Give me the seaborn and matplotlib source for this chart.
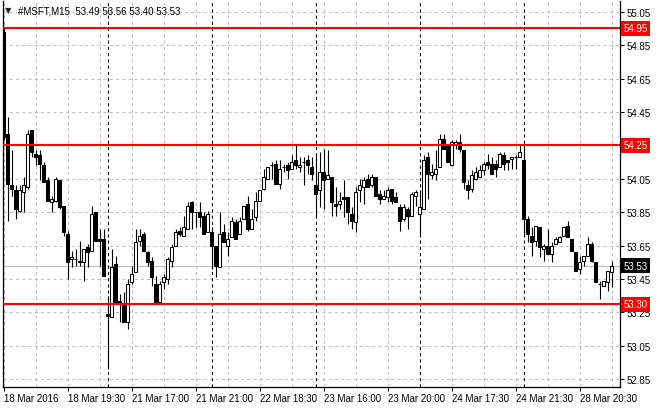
import pandas as pd
import matplotlib
matplotlib.use("Agg")
import matplotlib.pyplot as plt
import seaborn as sns

# M15 bars of #MSFT (one value per bar)
opens = [54.93, 54.32, 54.01, 53.98, 53.86, 53.97, 54.00, 54.34, 54.20, 54.19,
         54.13, 54.04, 53.91, 53.92, 54.04, 53.89, 53.72, 53.57, 53.57, 53.55,
         53.55, 53.64, 53.62, 53.85, 53.69, 53.69, 53.24, 53.22, 53.54, 53.32,
         53.30, 53.19, 53.43, 53.49, 53.68, 53.72, 53.61, 53.56, 53.42, 53.31,
         53.43, 53.45, 53.56, 53.65, 53.74, 53.71, 53.75, 53.91, 53.85, 53.85,
         53.83, 53.73, 53.73, 53.65, 53.52, 53.73, 53.65, 53.70, 53.79, 53.72,
         53.81, 53.90, 53.75, 53.82, 53.92, 53.99, 54.05, 54.13, 54.14, 54.02,
         54.12, 54.13, 54.11, 54.16, 54.12, 54.15, 54.16, 54.12, 54.01, 53.98,
         54.09, 54.05, 54.06, 53.90, 53.90, 53.94, 53.94, 53.84, 53.79, 53.98,
         54.00, 54.05, 54.01, 54.06, 53.96, 53.93, 53.94, 53.99, 53.94, 53.88,
         53.81, 53.87, 53.83, 53.95, 53.84, 53.87, 54.18, 54.07, 54.08, 54.12,
         54.29, 54.25, 54.13, 54.26, 54.27, 54.22, 54.01, 53.99, 54.05, 54.06,
         54.10, 54.15, 54.14, 54.14, 54.12, 54.19, 54.16, 54.17, 54.18, 54.18,
         54.16, 53.81, 53.71, 53.68, 53.76, 53.63, 53.65, 53.60, 53.66, 53.67,
         53.71, 53.77, 53.69, 53.61, 53.51, 53.56, 53.59, 53.66, 53.55, 53.42,
         53.41, 53.43, 53.49]
highs = [54.96, 54.42, 54.22, 54.01, 54.01, 54.06, 54.34, 54.34, 54.22, 54.22,
         54.15, 54.06, 53.95, 54.06, 54.04, 53.89, 53.74, 53.62, 53.63, 53.68,
         53.63, 53.66, 53.89, 53.85, 53.75, 53.75, 53.35, 53.63, 53.59, 53.36,
         53.37, 53.45, 53.53, 53.75, 53.75, 53.73, 53.62, 53.58, 53.47, 53.44,
         53.48, 53.58, 53.66, 53.75, 53.76, 53.83, 53.91, 53.92, 53.85, 53.91,
         53.85, 53.86, 53.76, 53.65, 53.85, 53.78, 53.73, 53.82, 53.81, 53.82,
         53.89, 53.95, 53.87, 53.97, 53.98, 54.11, 54.12, 54.15, 54.16, 54.16,
         54.14, 54.15, 54.19, 54.25, 54.18, 54.18, 54.19, 54.18, 54.20, 54.21,
         54.23, 54.22, 54.06, 54.00, 53.97, 54.04, 53.94, 53.88, 54.00, 54.05,
         54.06, 54.08, 54.08, 54.06, 53.98, 53.98, 54.00, 53.99, 53.97, 53.90,
         53.90, 53.88, 53.97, 53.98, 53.98, 54.19, 54.21, 54.14, 54.22, 54.32,
         54.32, 54.25, 54.28, 54.28, 54.32, 54.22, 54.04, 54.10, 54.12, 54.13,
         54.15, 54.20, 54.18, 54.16, 54.21, 54.21, 54.16, 54.18, 54.19, 54.25,
         54.25, 53.83, 53.76, 53.77, 53.76, 53.66, 53.75, 53.67, 53.70, 53.71,
         53.77, 53.80, 53.69, 53.61, 53.59, 53.59, 53.70, 53.67, 53.55, 53.44,
         53.44, 53.50, 53.56]
lows = [54.28, 53.80, 53.95, 53.81, 53.85, 53.85, 53.99, 54.18, 54.13, 54.04,
        54.03, 53.92, 53.85, 53.91, 53.87, 53.71, 53.45, 53.52, 53.53, 53.53,
        53.44, 53.52, 53.62, 53.68, 53.53, 53.47, 52.91, 53.22, 53.31, 53.19,
        53.19, 53.15, 53.42, 53.49, 53.65, 53.62, 53.53, 53.41, 53.31, 53.31,
        53.39, 53.42, 53.52, 53.65, 53.71, 53.71, 53.75, 53.75, 53.76, 53.76,
        53.72, 53.73, 53.51, 53.46, 53.52, 53.67, 53.59, 53.70, 53.69, 53.72,
        53.81, 53.74, 53.75, 53.80, 53.92, 53.98, 54.05, 54.05, 54.02, 53.99,
        54.09, 54.05, 54.11, 54.11, 54.09, 54.01, 54.08, 54.04, 53.83, 53.88,
        53.87, 54.05, 53.83, 53.83, 53.87, 53.82, 53.78, 53.75, 53.73, 53.91,
        53.90, 54.00, 54.00, 53.95, 53.90, 53.93, 53.91, 53.90, 53.91, 53.74,
        53.80, 53.75, 53.83, 53.89, 53.71, 53.87, 53.93, 54.05, 54.04, 54.12,
        54.23, 54.15, 54.13, 54.23, 54.21, 53.99, 53.93, 53.97, 54.04, 54.06,
        54.07, 54.11, 54.08, 54.06, 54.12, 54.10, 54.10, 54.11, 54.11, 54.18,
        53.72, 53.67, 53.59, 53.65, 53.58, 53.56, 53.60, 53.55, 53.66, 53.67,
        53.71, 53.70, 53.62, 53.50, 53.48, 53.53, 53.59, 53.55, 53.43, 53.33,
        53.41, 53.38, 53.40]
closes = [54.30, 54.02, 53.99, 53.87, 53.98, 54.01, 54.32, 54.21, 54.18, 54.14,
          54.03, 53.92, 53.93, 54.05, 53.88, 53.73, 53.55, 53.58, 53.57, 53.56,
          53.63, 53.61, 53.84, 53.68, 53.68, 53.47, 53.23, 53.52, 53.31, 53.30,
          53.19, 53.42, 53.48, 53.67, 53.71, 53.62, 53.55, 53.46, 53.31, 53.42,
          53.46, 53.57, 53.64, 53.73, 53.72, 53.76, 53.89, 53.85, 53.85, 53.82,
          53.72, 53.84, 53.65, 53.53, 53.72, 53.67, 53.69, 53.80, 53.69, 53.80,
          53.89, 53.75, 53.81, 53.92, 53.98, 54.06, 54.12, 54.13, 54.02, 54.11,
          54.12, 54.10, 54.15, 54.13, 54.13, 54.15, 54.13, 54.08, 53.96, 54.09,
          54.04, 54.07, 53.91, 53.89, 53.92, 53.93, 53.85, 53.80, 53.97, 54.01,
          54.04, 54.00, 54.06, 53.95, 53.93, 53.95, 53.98, 53.92, 53.91, 53.80,
          53.88, 53.83, 53.96, 53.97, 53.88, 54.16, 54.08, 54.09, 54.11, 54.29,
          54.23, 54.15, 54.27, 54.27, 54.23, 54.03, 53.98, 54.07, 54.09, 54.10,
          54.14, 54.13, 54.08, 54.11, 54.20, 54.14, 54.15, 54.18, 54.18, 54.21,
          53.81, 53.72, 53.67, 53.77, 53.64, 53.65, 53.60, 53.65, 53.69, 53.70,
          53.76, 53.70, 53.62, 53.50, 53.55, 53.59, 53.66, 53.56, 53.43, 53.42,
          53.44, 53.50, 53.53]

# horizontal levels drawn on the chart
levels = [54.95, 54.25, 53.30]
last_price = 53.53
header = "#MSFT,M15  53.49 53.56 53.40 53.53"

# axis labels
y_ticks = [52.85, 53.05, 53.25, 53.45, 53.65, 53.85, 54.05, 54.25, 54.45, 54.65, 54.85, 55.05]
x_tick_bars = [0, 16, 32, 48, 64, 80, 96, 112, 128, 144]
x_tick_labels = ["18 Mar 2016", "18 Mar 19:30", "21 Mar 17:00", "21 Mar 21:00", "22 Mar 18:30",
                 "23 Mar 16:00", "23 Mar 20:00", "24 Mar 17:30", "24 Mar 21:30", "28 Mar 20:30"]
day_starts = [26, 52, 78, 104, 130]

df = pd.DataFrame({"open": opens, "high": highs, "low": lows, "close": closes})
df["bar"] = range(len(df))
df["bull"] = df["close"] >= df["open"]

sns.set_theme(style="white")
plt.rcParams["font.family"] = ["Liberation Sans", "DejaVu Sans"]

fig = plt.figure(figsize=(6.6, 4.1), dpi=100)
ax = fig.add_axes([2.5 / 660, 1 - 388 / 410, 617.5 / 660, 386 / 410])
ax.set_facecolor("white")

dash = (0, (3, 3))

# grid; a tick label hidden under a level box is left blank
ax.set_yticks(y_ticks)
ax.set_yticklabels(["" if any(abs(v - lv) < 1e-6 for lv in levels) else f"{v:.2f}"
                    for v in y_ticks])
ax.set_xticks(x_tick_bars)
ax.set_xticklabels(x_tick_labels, ha="left")
ax.set_xticks(range(0, len(df) + 2, 8), minor=True)
ax.grid(True, which="both", color="#c0c0c0", linestyle=dash, linewidth=0.75)
ax.set_axisbelow(True)

# day separators and bid line
for d in day_starts:
    ax.axvline(d, color="black", linestyle=dash, linewidth=0.75, zorder=1.5)
ax.axhline(last_price, color="#c0c0c0", linewidth=0.9, zorder=1.4)

# candles
ax.vlines(df["bar"], df["low"], df["high"], color="black", linewidth=0.8, zorder=2)
body_low = df[["open", "close"]].min(axis=1)
body_h = (df["close"] - df["open"]).abs().clip(lower=0.002)
ax.bar(df["bar"], body_h, bottom=body_low, width=0.55,
       color=["white" if b else "black" for b in df["bull"]],
       edgecolor="black", linewidth=0.75, zorder=2.5)

# levels
for lv in levels:
    ax.axhline(lv, color="#ff0000", linewidth=1.5, zorder=3)

ax.set_xlim(-0.25, 154.1)
ax.set_ylim(52.804, 55.114)

ax.spines["top"].set_visible(False)
for side in ["left", "right", "bottom"]:
    ax.spines[side].set_color("black")
    ax.spines[side].set_linewidth(0.9)

ax.yaxis.tick_right()
ax.tick_params(axis="y", which="major", right=True, left=False, length=3, width=0.75,
               color="black", pad=2, labelsize=7, labelcolor="black")
ax.tick_params(axis="x", which="major", bottom=True, length=3, width=0.75,
               color="black", pad=1.5, labelsize=7, labelcolor="black")
ax.tick_params(axis="x", which="minor", length=0)

# price labels on the right axis
trans = ax.get_yaxis_transform()
for lv in levels:
    ax.text(1.006, lv, f"{lv:.2f}", transform=trans, ha="left", va="center",
            fontsize=7, color="white", clip_on=False, zorder=5,
            bbox=dict(boxstyle="square,pad=0.25", fc="#ff0000", ec="none"))
ax.text(1.006, last_price, f"{last_price:.2f}", transform=trans, ha="left", va="center",
        fontsize=7, color="white", clip_on=False, zorder=5,
        bbox=dict(boxstyle="square,pad=0.25", fc="black", ec="none"))

# header
fig.text(5 / 660, 1 - 11 / 410, "\u25bc", fontsize=6, va="center", family="DejaVu Sans")
fig.text(18 / 660, 1 - 11 / 410, header, fontsize=7, va="center", color="black")

fig.savefig("out.png", dpi=100, facecolor="white")
